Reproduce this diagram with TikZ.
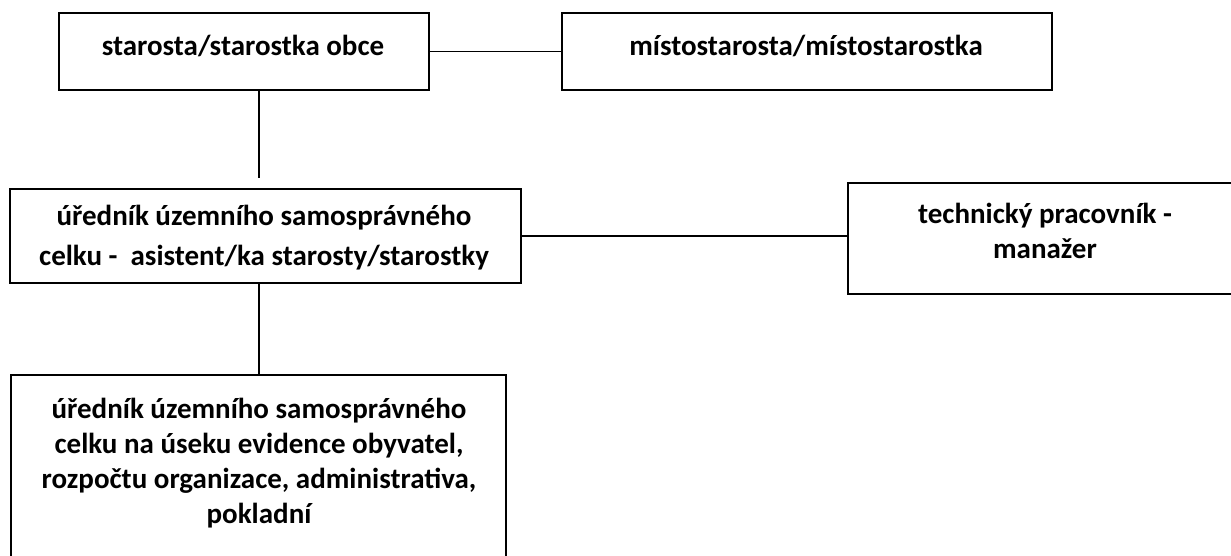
\documentclass[tikz,border=0pt]{standalone}
\usepackage{fontspec}
\setmainfont{Carlito}
\begin{document}
\begin{tikzpicture}[x=1pt,y=-1pt,
  box/.style={draw=black,line width=1.6pt,inner sep=0pt,anchor=north west},
  lbl/.style={font=\bfseries\fontsize{29}{35}\selectfont,align=center,inner sep=0pt},
  lblwide/.style={font=\bfseries\fontsize{29}{40}\selectfont,align=center,inner sep=0pt},
  conn/.style={draw=black,line width=1.4pt}]
\useasboundingbox (0,0) rectangle (1231,555);
\clip (0,0) rectangle (1231,555);
% boxes
\node[box,minimum width=370pt,minimum height=77pt] (b1) at (58,12) {};
\node[box,minimum width=490pt,minimum height=77pt] (b2) at (561,12) {};
\node[box,minimum width=511pt,minimum height=94pt] (b3) at (9,188) {};
\node[box,minimum width=396pt,minimum height=111pt] (b4) at (847,182) {};
\node[box,minimum width=495pt,minimum height=200pt] (b5) at (10,374) {};
% texts
\node[lbl] (t1) at (243,46) {starosta/starostka obce};
\node[lbl] (t2) at (806,46) {místostarosta/místostarostka};
\node[lblwide] (t3) at (264,238) {úředník územního samosprávného\\celku -\ \ asistent/ka starosty/starostky};
\node[lbl] (t4) at (1045,231) {technický pracovník -\\manažer};
\node[lbl] (t5) at (259,463) {úředník územního samosprávného\\celku na úseku evidence obyvatel,\\rozpočtu organizace, administrativa,\\pokladní};
% connectors
\coordinate (e1) at (259,178);
\draw[conn] (b1.east) -- (b2.west);
\draw[conn] (b1.south -| e1) -- (e1);
\draw[conn] (b3.east) -- (b3.east -| b4.west);
\draw[conn] (b3.south -| e1) -- (b5.north -| e1);
\end{tikzpicture}
\end{document}
